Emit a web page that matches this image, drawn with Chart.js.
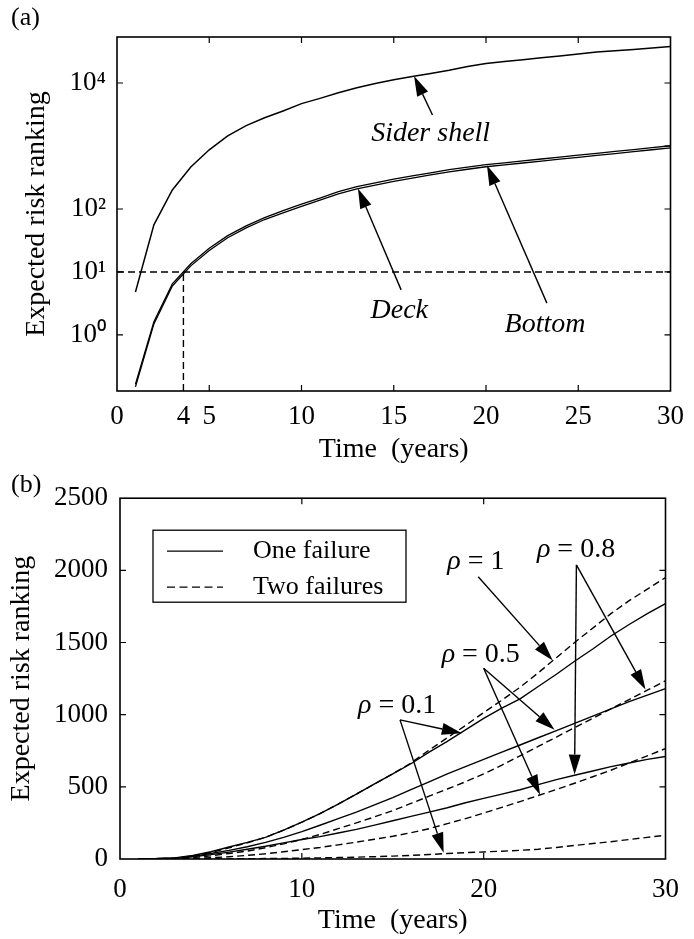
<!DOCTYPE html>
<html lang="en">
<head>
<meta charset="UTF-8">
<title>Expected risk ranking</title>
<script src="https://cdn.jsdelivr.net/npm/chart.js"></script>
<style>
  body { margin: 0; background: #fff; }
  canvas { display: block; }
</style>
</head>
<body>
<canvas id="chartA" width="694" height="470"></canvas>
<canvas id="chartB" width="694" height="469"></canvas>
<script>
// ---- data ----
const years = [1, 2, 3, 4, 5, 6, 7, 8, 9, 10, 11, 12, 13, 14, 15, 16, 17, 18, 19, 20, 21, 22, 23, 24, 25, 26, 27, 28, 29, 30];

// (a) log scale
const siderShell = [4.8, 56, 200, 465, 870, 1450, 2100, 2800, 3600, 4700, 5700, 7000, 8400, 9800, 11300, 12700, 14200, 15900, 18200, 20400, 21900, 23400, 25100, 26900, 28800, 30900, 32400, 33900, 35900, 38000];
const deck = [0.15, 1.5, 6.0, 12.5, 22, 35, 50, 68, 87, 110, 138, 174, 209, 240, 275, 309, 347, 389, 427, 468, 501, 537, 575, 617, 661, 708, 759, 813, 871, 933];
const bottom = [0.165, 1.62, 6.5, 13.5, 23.8, 37.8, 54, 73, 94, 119, 149, 188, 226, 259, 297, 334, 375, 420, 461, 505, 541, 580, 621, 666, 714, 765, 820, 878, 940, 1008];
const threshold = 10;
const thresholdYear = 3.6;
const xTicksA = [0, 3.6, 5, 10, 15, 20, 25, 30];
const xLabelsA = ['0', '4', '5', '10', '15', '20', '25', '30'];
const yTicksA = [1, 10, 100, 1000, 10000];
const yLabelsA = ['10\u2070', '10\u00b9', '10\u00b2', '', '10\u2074'];

// (b) linear scale
const oneRho01 = [2, 3, 8, 25, 50, 83, 115, 150, 200, 255, 315, 380, 450, 520, 590, 660, 740, 815, 895, 975, 1045, 1110, 1195, 1280, 1370, 1455, 1545, 1625, 1700, 1770];
const oneRho05 = [1, 2, 6, 18, 38, 60, 85, 115, 150, 190, 234, 280, 325, 375, 425, 480, 535, 590, 640, 690, 740, 790, 840, 890, 940, 990, 1040, 1090, 1135, 1180];
const oneRho08 = [1, 2, 5, 15, 30, 48, 68, 88, 112, 135, 155, 180, 205, 235, 265, 295, 325, 355, 390, 420, 450, 480, 515, 550, 580, 610, 640, 665, 690, 710];
const twoRho1 = [1, 2, 6, 20, 45, 78, 112, 150, 200, 255, 315, 380, 450, 520, 590, 665, 755, 840, 925, 1015, 1100, 1190, 1290, 1395, 1500, 1600, 1700, 1790, 1870, 1950];
const twoRho08 = [0, 1, 3, 10, 22, 38, 55, 78, 105, 135, 170, 210, 250, 292, 335, 385, 435, 485, 535, 590, 650, 715, 780, 845, 910, 975, 1040, 1105, 1170, 1235];
const twoRho05 = [0, 0, 1, 4, 9, 16, 25, 36, 50, 65, 80, 98, 117, 137, 158, 182, 210, 245, 280, 318, 358, 398, 440, 482, 525, 570, 615, 665, 715, 765];
const twoRho01 = [0, 0, 0, 0, 1, 1, 2, 3, 4, 6, 8, 10, 13, 16, 20, 25, 31, 38, 44, 49, 54, 60, 68, 80, 94, 107, 120, 135, 150, 165];
const xTicksB = [0, 10, 20, 30];
const yTicksB = [0, 500, 1000, 1500, 2000, 2500];
const legendB = ['One failure', 'Two failures'];

// ---- helpers ----
const SERIF = "'Liberation Serif', 'Times New Roman', serif";
Chart.defaults.font.family = SERIF;
Chart.defaults.color = '#000';
const DASH = [7, 4];

const pts = (xs, ys) => xs.map((x, i) => ({ x: x, y: ys[i] }));

function line(data, dashed, width) {
  return {
    data: data, borderColor: '#000', borderWidth: width || 1.4,
    borderDash: dashed ? DASH : [], pointRadius: 0, tension: 0, fill: false
  };
}

function drawArrow(ctx, x1, y1, x2, y2) {
  const a = Math.atan2(y2 - y1, x2 - x1);
  const hl = 20, hw = 6;
  const bx = x2 - hl * Math.cos(a), by = y2 - hl * Math.sin(a);
  ctx.beginPath();
  ctx.moveTo(x1, y1);
  ctx.lineTo(bx, by);
  ctx.stroke();
  ctx.beginPath();
  ctx.moveTo(x2, y2);
  ctx.lineTo(bx + hw * Math.sin(a), by - hw * Math.cos(a));
  ctx.lineTo(bx - hw * Math.sin(a), by + hw * Math.cos(a));
  ctx.closePath();
  ctx.fill();
}

// text made of [string, italic] parts, centred on a point
function drawParts(ctx, parts, cx, cy, size) {
  const fonts = parts.map(p => (p[1] ? 'italic ' : '') + size + 'px ' + SERIF);
  let total = 0;
  parts.forEach((p, i) => { ctx.font = fonts[i]; total += ctx.measureText(p[0]).width; });
  let x = cx - total / 2;
  ctx.textAlign = 'left';
  ctx.textBaseline = 'middle';
  parts.forEach((p, i) => {
    ctx.font = fonts[i];
    ctx.fillText(p[0], x, cy);
    x += ctx.measureText(p[0]).width;
  });
}

function decorations(cfg) {
  return {
    id: 'decor',
    afterDatasetsDraw(chart) {
      const { ctx, chartArea: a, scales: { x, y } } = chart;
      ctx.save();
      ctx.strokeStyle = '#000';
      ctx.fillStyle = '#000';
      ctx.setLineDash([]);
      ctx.lineWidth = 1.6;
      ctx.strokeRect(a.left, a.top, a.right - a.left, a.bottom - a.top);
      // inward tick marks
      ctx.lineWidth = 1.2;
      ctx.beginPath();
      cfg.xMarks.forEach(v => {
        const p = x.getPixelForValue(v);
        ctx.moveTo(p, a.bottom); ctx.lineTo(p, a.bottom - 6);
        ctx.moveTo(p, a.top); ctx.lineTo(p, a.top + 6);
      });
      cfg.leftMarks.forEach(v => {
        const p = y.getPixelForValue(v);
        ctx.moveTo(a.left, p); ctx.lineTo(a.left + 6, p);
      });
      cfg.rightMarks.forEach(v => {
        const p = y.getPixelForValue(v);
        ctx.moveTo(a.right, p); ctx.lineTo(a.right - 6, p);
      });
      ctx.stroke();
      // arrows
      ctx.lineWidth = 1.4;
      cfg.arrows.forEach(r => {
        drawArrow(ctx, x.getPixelForValue(r[0]), y.getPixelForValue(r[1]),
          x.getPixelForValue(r[2]), y.getPixelForValue(r[3]));
      });
      // notes
      cfg.notes.forEach(n => {
        drawParts(ctx, n.parts, x.getPixelForValue(n.x), y.getPixelForValue(n.y), 28);
      });
      // legend box
      if (cfg.legend) {
        const L = a.left + 33, T = a.top + 32;
        ctx.lineWidth = 1.3;
        ctx.strokeRect(L, T, 253, 72);
        cfg.legend.forEach((label, i) => {
          const yy = T + 21 + i * 36;
          ctx.setLineDash(i ? [8, 4.5] : []);
          ctx.beginPath();
          ctx.moveTo(L + 14, yy); ctx.lineTo(L + 70, yy);
          ctx.stroke();
          ctx.setLineDash([]);
          ctx.font = '26px ' + SERIF;
          ctx.textAlign = 'left';
          ctx.textBaseline = 'middle';
          ctx.fillText(label, L + 100, yy);
        });
      }
      // panel letter
      ctx.font = '26px ' + SERIF;
      ctx.textAlign = 'left';
      ctx.textBaseline = 'middle';
      ctx.fillText(cfg.panel, 11, cfg.panelY);
      ctx.restore();
    }
  };
}

function axisTitle(text, pad) {
  return { display: true, text: text, font: { size: 28 }, padding: pad };
}

// ---- panel (a) ----
new Chart(document.getElementById('chartA'), {
  type: 'line',
  data: {
    datasets: [
      line(pts(years, siderShell), false, 1.5),
      line(pts(years, deck), false, 1.3),
      line(pts(years, bottom), false, 1.3),
      line(pts([0, 30], [threshold, threshold]), true, 1.4),
      line(pts([thresholdYear, thresholdYear], [0.129, threshold]), true, 1.4)
    ]
  },
  options: {
    responsive: false,
    animation: false,
    layout: { padding: { top: 37, right: 19, left: 0, bottom: 0 } },
    plugins: { legend: { display: false }, tooltip: { enabled: false } },
    scales: {
      x: {
        type: 'linear', min: 0, max: 30,
        afterFit: s => { s.height = 79; },
        afterBuildTicks: s => { s.ticks = xTicksA.map(v => ({ value: v })); },
        grid: { display: false, drawTicks: false },
        border: { display: false },
        ticks: {
          autoSkip: false, maxRotation: 0, padding: 10, font: { size: 27 },
          callback: v => xLabelsA[xTicksA.indexOf(v)]
        },
        title: axisTitle('Time  (years)', { top: 0, bottom: 4 })
      },
      y: {
        type: 'logarithmic', min: 0.129, max: 53700,
        afterFit: s => { s.width = 117; },
        afterBuildTicks: s => { s.ticks = yTicksA.map(v => ({ value: v })); },
        grid: { display: false, drawTicks: false },
        border: { display: false },
        ticks: {
          autoSkip: false, padding: 11, font: { size: 27 },
          callback: v => yLabelsA[yTicksA.indexOf(v)]
        },
        title: axisTitle('Expected risk ranking', { top: 20, bottom: 0 })
      }
    }
  },
  plugins: [decorations({
    panel: '(a)', panelY: 18,
    xMarks: [5, 10, 15, 20, 25],
    leftMarks: [1, 10, 100, 10000],
    rightMarks: [1, 10, 100, 1000, 10000],
    arrows: [
      [17.1, 3100, 16.1, 12900],
      [15.4, 5.2, 13.06, 212],
      [23.3, 3.2, 20.05, 495]
    ],
    notes: [
      { x: 17.0, y: 1550, parts: [['Sider shell', true]] },
      { x: 15.3, y: 2.4, parts: [['Deck', true]] },
      { x: 23.2, y: 1.44, parts: [['Bottom', true]] }
    ]
  })]
});

// ---- panel (b) ----
new Chart(document.getElementById('chartB'), {
  type: 'line',
  data: {
    datasets: [
      line(pts(years, oneRho01), false),
      line(pts(years, oneRho05), false),
      line(pts(years, oneRho08), false),
      line(pts(years, twoRho1), true),
      line(pts(years, twoRho08), true),
      line(pts(years, twoRho05), true),
      line(pts(years, twoRho01), true)
    ]
  },
  options: {
    responsive: false,
    animation: false,
    layout: { padding: { top: 26, right: 19, left: 0, bottom: 0 } },
    plugins: { legend: { display: false }, tooltip: { enabled: false } },
    scales: {
      x: {
        type: 'linear', min: 0, max: 30,
        afterFit: s => { s.height = 80; },
        afterBuildTicks: s => { s.ticks = xTicksB.map(v => ({ value: v })); },
        grid: { display: false, drawTicks: false },
        border: { display: false },
        ticks: { autoSkip: false, maxRotation: 0, padding: 15, font: { size: 27 }, callback: v => String(v) },
        title: axisTitle('Time  (years)', { top: 0, bottom: 2 })
      },
      y: {
        type: 'linear', min: 0, max: 2500,
        afterFit: s => { s.width = 120; },
        afterBuildTicks: s => { s.ticks = yTicksB.map(v => ({ value: v })); },
        grid: { display: false, drawTicks: false },
        border: { display: false },
        ticks: { autoSkip: false, padding: 12, font: { size: 27 }, callback: v => String(v) },
        title: axisTitle('Expected risk ranking', { top: 5, bottom: 0 })
      }
    }
  },
  plugins: [decorations({
    panel: '(b)', panelY: 15,
    xMarks: [10, 20],
    leftMarks: [500, 1000, 1500, 2000],
    rightMarks: [500, 1000, 1500, 2000],
    legend: legendB,
    arrows: [
      [19.7, 1956, 23.8, 1375],
      [25.1, 2038, 28.9, 1175],
      [25.1, 2038, 25.0, 585],
      [20.0, 1322, 23.9, 895],
      [20.0, 1322, 23.1, 445],
      [15.4, 964, 18.8, 872],
      [15.4, 964, 17.8, 44]
    ],
    notes: [
      { x: 19.57, y: 2059, parts: [['\u03c1', true], [' = 1', false]] },
      { x: 25.08, y: 2142, parts: [['\u03c1', true], [' = 0.8', false]] },
      { x: 19.84, y: 1419, parts: [['\u03c1', true], [' = 0.5', false]] },
      { x: 15.24, y: 1061, parts: [['\u03c1', true], [' = 0.1', false]] }
    ]
  })]
});
</script>
</body>
</html>
